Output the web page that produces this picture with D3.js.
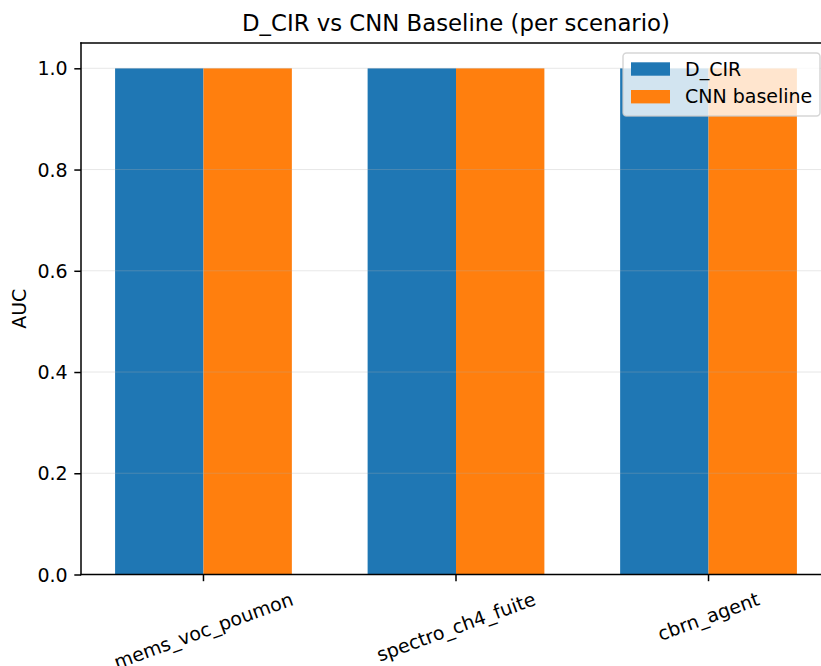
<!DOCTYPE html>
<html lang="en">
<head>
<meta charset="UTF-8">
<title>D_CIR vs CNN Baseline</title>
<script src="https://cdn.jsdelivr.net/npm/d3@7"></script>
<style>
  body { margin: 0; background: #fff; }
  svg { display: block; font-family: "DejaVu Sans", sans-serif; }
</style>
</head>
<body>
<div id="chart"></div>
<script>
// data
const scenarios = ["mems_voc_poumon", "spectro_ch4_fuite", "cbrn_agent"];
const dcirAuc = [1.0, 1.0, 1.0];
const cnnAuc = [1.0, 1.0, 1.0];
const yTicks = [0.0, 0.2, 0.4, 0.6, 0.8, 1.0];
const seriesNames = ["D_CIR", "CNN baseline"];
const colors = ["#1f77b4", "#ff7f0e"];

const W = 821, H = 666;
const plotLeft = 81, plotRight = 831, plotTop = 43, plotBottom = 574.5;
const barW = 0.35;

const svg = d3.select("#chart").append("svg").attr("width", W).attr("height", H);

const x = d3.scaleLinear().domain([-0.485, 2.485]).range([plotLeft, plotRight]);
const y = d3.scaleLinear().domain([0, 1.05]).range([plotBottom, plotTop]);

// bars
const series = [dcirAuc, cnnAuc];
series.forEach((vals, s) => {
    svg.append("g").selectAll("rect")
        .data(vals)
        .enter().append("rect")
        .attr("x", (d, i) => x(i - barW + s * barW))
        .attr("width", (d, i) => x(i + s * barW) - x(i - barW + s * barW))
        .attr("y", d => y(d))
        .attr("height", d => y(0) - y(d))
        .attr("fill", colors[s]);
});

// grid (drawn above bars, light)
svg.append("g").selectAll("line")
    .data(yTicks)
    .enter().append("line")
    .attr("x1", plotLeft).attr("x2", plotRight)
    .attr("y1", d => y(d)).attr("y2", d => y(d))
    .attr("stroke", "#b0b0b0").attr("stroke-opacity", 0.3).attr("stroke-width", 1);

// y axis
const yAxis = svg.append("g")
    .attr("transform", `translate(${plotLeft},0)`)
    .call(d3.axisLeft(y).tickValues(yTicks).tickFormat(d3.format(".1f")).tickSize(6.7).tickPadding(6.7));
yAxis.select(".domain").remove();
yAxis.selectAll("line").attr("stroke", "#000").attr("stroke-width", 1.5);
yAxis.selectAll("text").attr("font-size", 19).attr("fill", "#000")
    .attr("font-family", "DejaVu Sans").attr("dy", "0.35em");

// x axis ticks
const xg = svg.append("g");
xg.selectAll("line")
    .data(scenarios)
    .enter().append("line")
    .attr("x1", (d, i) => x(i)).attr("x2", (d, i) => x(i))
    .attr("y1", plotBottom).attr("y2", plotBottom + 6.7)
    .attr("stroke", "#000").attr("stroke-width", 1.5);

const rot = 20 * Math.PI / 180;
xg.selectAll("text")
    .data(scenarios)
    .enter().append("text")
    .attr("text-anchor", "middle")
    .attr("font-size", 19)
    .attr("dy", "0.35em")
    .text(d => d)
    .each(function(d, i) {
        const L = this.getComputedTextLength();
        const h = 19 * 1.164;
        const cy = plotBottom + 6.7 + 6.7 + (L * Math.sin(rot) + h * Math.cos(rot)) / 2;
        d3.select(this).attr("transform", `translate(${x(i)},${cy}) rotate(-20)`);
    });

// spines
const spine = (x1, y1, x2, y2) => svg.append("line")
    .attr("x1", x1).attr("y1", y1).attr("x2", x2).attr("y2", y2)
    .attr("stroke", "#000").attr("stroke-width", 1.5).attr("stroke-linecap", "square");
spine(plotLeft, plotTop, plotLeft, plotBottom);
spine(plotLeft, plotBottom, plotRight, plotBottom);
spine(plotLeft, plotTop, plotRight, plotTop);
spine(plotRight, plotTop, plotRight, plotBottom);

// labels
svg.append("text")
    .attr("x", (plotLeft + plotRight) / 2).attr("y", 31)
    .attr("text-anchor", "middle").attr("font-size", 22.8)
    .text("D_CIR vs CNN Baseline (per scenario)");

svg.append("text")
    .attr("transform", `translate(26,${(plotTop + plotBottom) / 2}) rotate(-90)`)
    .attr("text-anchor", "middle").attr("font-size", 19)
    .text("AUC");

// legend
const lg = svg.append("g");
lg.append("rect")
    .attr("x", 623).attr("y", 53).attr("width", 197).attr("height", 63)
    .attr("rx", 3.5)
    .attr("fill", "#fff").attr("fill-opacity", 0.8)
    .attr("stroke", "#cccccc").attr("stroke-opacity", 0.8).attr("stroke-width", 1.5);
seriesNames.forEach((name, k) => {
    const yy = 62.3 + k * 27.7;
    lg.append("rect").attr("x", 631).attr("y", yy).attr("width", 39).attr("height", 13.4)
        .attr("fill", colors[k]);
    lg.append("text").attr("x", 685).attr("y", yy + 13.3)
        .attr("font-size", 19).text(name);
});
</script>
</body>
</html>
